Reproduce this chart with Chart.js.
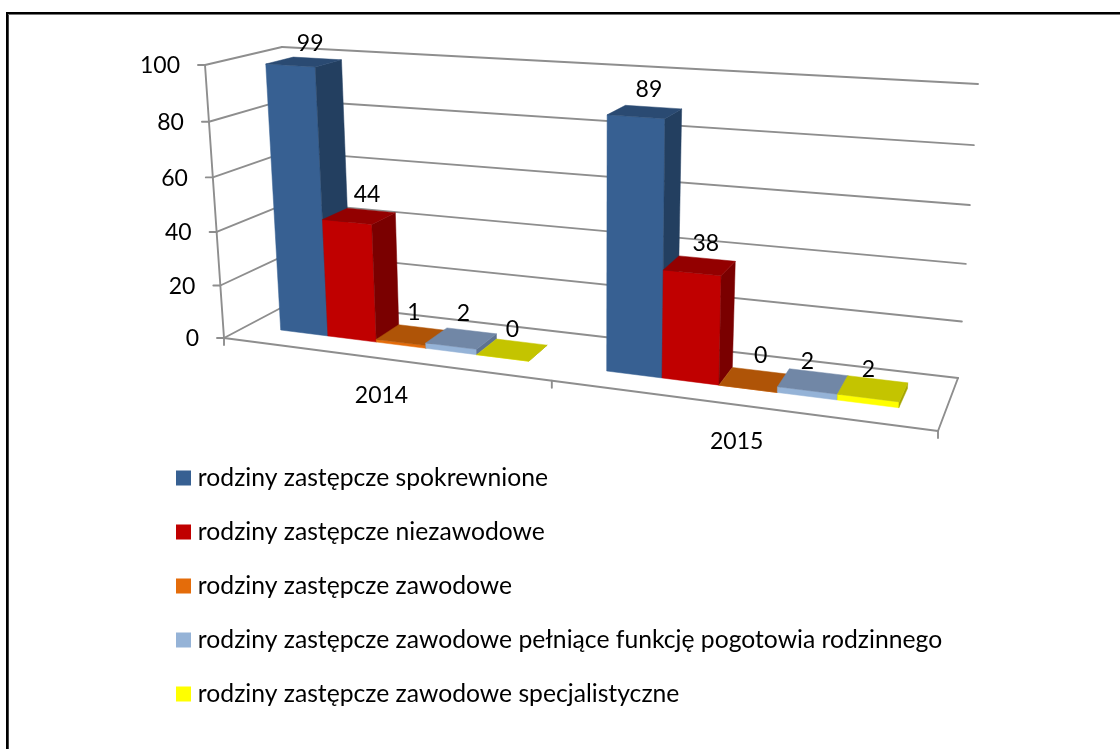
<!DOCTYPE html>
<html>
<head>
<meta charset="utf-8">
<style>
html,body{margin:0;padding:0;background:#fff;overflow:hidden}
#wrap{position:relative;width:1120px;height:749px}
#frame{position:absolute;left:6px;top:12px;width:1130px;height:800px;border:2px solid #000;box-sizing:border-box;box-shadow:inset 0 1px 0 #777,inset 1px 0 0 #444}
canvas{position:absolute;left:0;top:0}
</style>
<script src="https://cdn.jsdelivr.net/npm/chart.js@4/dist/chart.umd.js"></script>
</head>
<body>
<div id="wrap"><div id="frame"></div><canvas id="c" width="1120" height="749"></canvas></div>
<script>
const categories = ["2014", "2015"];
const spokrewnione = [99, 89];
const niezawodowe = [44, 38];
const zawodowe = [1, 0];
const pogotowie = [2, 2];
const specjalistyczne = [0, 2];
const yTicks = [0, 20, 40, 60, 80, 100];

const seriesNames = [
  "rodziny zastępcze spokrewnione",
  "rodziny zastępcze niezawodowe",
  "rodziny zastępcze zawodowe",
  "rodziny zastępcze zawodowe pełniące funkcję pogotowia rodzinnego",
  "rodziny zastępcze zawodowe specjalistyczne"
];
const seriesValues = [spokrewnione, niezawodowe, zawodowe, pogotowie, specjalistyczne];
const frontColors = ["#376092", "#C00000", "#E46C0A", "#95B3D7", "#FFFF00"];
const topColors = ["#2A4A72", "#930000", "#AF5407", "#7187A6", "#C4C400"];
const sideColors = ["#233F60", "#7A0000", "#974A08", "#5E7390", "#A6A600"];

const FONT = "Lato, Carlito, Calibri, sans-serif";
const FS = 23;
const LEGEND_FS = 24.7;
const GRID = "#8E8E8E";

// corners of the 3D box
const C = {
  fbl:[224,338], fbr:[938,431], bbl:[294,301], bbr:[958,378],
  ftl:[205,65],  ftr:[953,112], btl:[282,47],  btr:[978,84]
};
const KU = 1.178, KV = 1.05;
const BAR_D0 = 0.33, BAR_D1 = 0.70;
// data-label nudges per series, per category (Excel places these by hand)
const labelNudge = [
  [[2.5, 3], [0, -1]],
  [[4, 0], [2, -1]],
  [[-2, -1], [2, -3]],
  [[-2, -4], [-10, 2]],
  [[-4, 1], [-9, 2]]
];
const persp = (t, k) => t / (t + k * (1 - t));
function P(u, v, d) {
  const s = persp(u, KU);
  const w = persp(v, KV);
  const out = [0, 0];
  for (let i = 0; i < 2; i++) {
    const fb = C.fbl[i] + (C.fbr[i] - C.fbl[i]) * s;
    const bb = C.bbl[i] + (C.bbr[i] - C.bbl[i]) * s;
    const ft = C.ftl[i] + (C.ftr[i] - C.ftl[i]) * s;
    const bt = C.btl[i] + (C.btr[i] - C.btl[i]) * s;
    const b = fb + (bb - fb) * d;
    const t = ft + (bt - ft) * d;
    out[i] = b + (t - b) * w;
  }
  return out;
}
function poly(ctx, pts, fill) {
  ctx.beginPath();
  pts.forEach((p, i) => i ? ctx.lineTo(p[0], p[1]) : ctx.moveTo(p[0], p[1]));
  ctx.closePath();
  ctx.fillStyle = fill;
  ctx.fill();
  ctx.strokeStyle = fill;
  ctx.lineWidth = 0.5;
  ctx.stroke();
}
function line(ctx, a, b) {
  ctx.beginPath();
  ctx.moveTo(a[0], a[1]);
  ctx.lineTo(b[0], b[1]);
  ctx.strokeStyle = GRID;
  ctx.lineWidth = 1.9;
  ctx.stroke();
}

const box3d = {
  id: "box3d",
  beforeDraw(chart) {
    const a = chart.chartArea, ys = chart.scales.y, xs = chart.scales.x;
    const V = v => (a.bottom - ys.getPixelForValue(v)) / a.height;
    const ctx = chart.ctx;
    ctx.save();
    ctx.lineCap = "round";
    ys.ticks.forEach(t => {
      const v = V(t.value);
      const f = P(0, v, 0), b = P(0, v, 1), r = P(1, v, 1);
      line(ctx, [f[0] - 7, f[1]], f);
      line(ctx, f, b);
      line(ctx, b, r);
      ctx.fillStyle = "#000";
      ctx.font = FS + "px " + FONT;
      ctx.textAlign = "right";
      ctx.textBaseline = "middle";
      ctx.fillText(String(t.value), f[0] - 25, f[1] + 1);
    });
    line(ctx, P(0, 0, 0), P(0, 1, 0));
    line(ctx, P(0, 0, 0), P(1, 0, 0));
    line(ctx, P(1, 0, 0), P(1, 0, 1));
    [0, 0.5, 1].forEach(u => {
      const p = P(u, 0, 0);
      line(ctx, p, [p[0], p[1] + 7]);
    });
    categories.forEach((c, i) => {
      const px = xs.getPixelForValue(i);
      const p = P((px - a.left) / a.width, 0, 0);
      ctx.fillStyle = "#000";
      ctx.font = FS + "px " + FONT;
      ctx.textAlign = "center";
      ctx.textBaseline = "middle";
      ctx.fillText(c, p[0], p[1] + 37);
    });
    ctx.restore();
  },
  beforeDatasetDraw() { return false; },
  afterDatasetsDraw(chart) {
    const a = chart.chartArea, ctx = chart.ctx;
    const U = x => (x - a.left) / a.width;
    const V = y => (a.bottom - y) / a.height;
    const labels = [];
    ctx.save();
    categories.forEach((c, ci) => {
      chart.data.datasets.forEach((ds, si) => {
        const el = chart.getDatasetMeta(si).data[ci];
        const u0 = U(el.x - el.width / 2), u1 = U(el.x + el.width / 2);
        const v0 = V(el.base), v1 = V(el.y);
        const f0 = P(u0, v0, BAR_D0), f1 = P(u1, v0, BAR_D0), b1 = P(u1, v0, BAR_D1);
        const t00 = P(u0, v1, BAR_D0), t10 = P(u1, v1, BAR_D0), t11 = P(u1, v1, BAR_D1), t01 = P(u0, v1, BAR_D1);
        poly(ctx, [f0, f1, t10, t00], frontColors[si]);
        poly(ctx, [f1, b1, t11, t10], sideColors[si]);
        poly(ctx, [t00, t10, t11, t01], topColors[si]);
        const m = P((u0 + u1) / 2, v1, 0.5);
        const n = labelNudge[si][ci];
        labels.push([String(seriesValues[si][ci]), m[0] + 5 + n[0], m[1] - 22 + n[1]]);
      });
    });
    ctx.fillStyle = "#000";
    ctx.font = FS + "px " + FONT;
    ctx.textAlign = "center";
    ctx.textBaseline = "middle";
    labels.forEach(l => ctx.fillText(l[0], l[1], l[2]));
    ctx.restore();
  }
};

const legendPlace = {
  id: "legendPlace",
  afterLayout(chart) {
    const l = chart.legend;
    const w = l.width, h = l.height;
    l.left = 152.2; l.top = 436.4;
    l.right = l.left + w; l.bottom = l.top + h;
  }
};

new Chart(document.getElementById("c"), {
  type: "bar",
  data: {
    labels: categories,
    datasets: seriesNames.map((n, i) => ({
      label: n,
      data: seriesValues[i],
      backgroundColor: frontColors[i],
      borderColor: frontColors[i],
      borderWidth: 11,
      borderJoinStyle: "miter",
      categoryPercentage: 0.775,
      barPercentage: 1
    }))
  },
  options: {
    responsive: false,
    animation: false,
    layout: { padding: 0 },
    scales: {
      x: { display: false },
      y: { display: false, min: 0, max: 100, afterBuildTicks(s) { s.ticks = yTicks.map(v => ({ value: v })); } }
    },
    plugins: {
      tooltip: { enabled: false },
      legend: {
        position: "chartArea",
        align: "start",
        labels: { boxWidth: 4, boxHeight: 4, padding: 29.3, color: "#000", font: { family: FONT, size: LEGEND_FS } }
      }
    }
  },
  plugins: [box3d, legendPlace]
});
</script>
</body>
</html>
